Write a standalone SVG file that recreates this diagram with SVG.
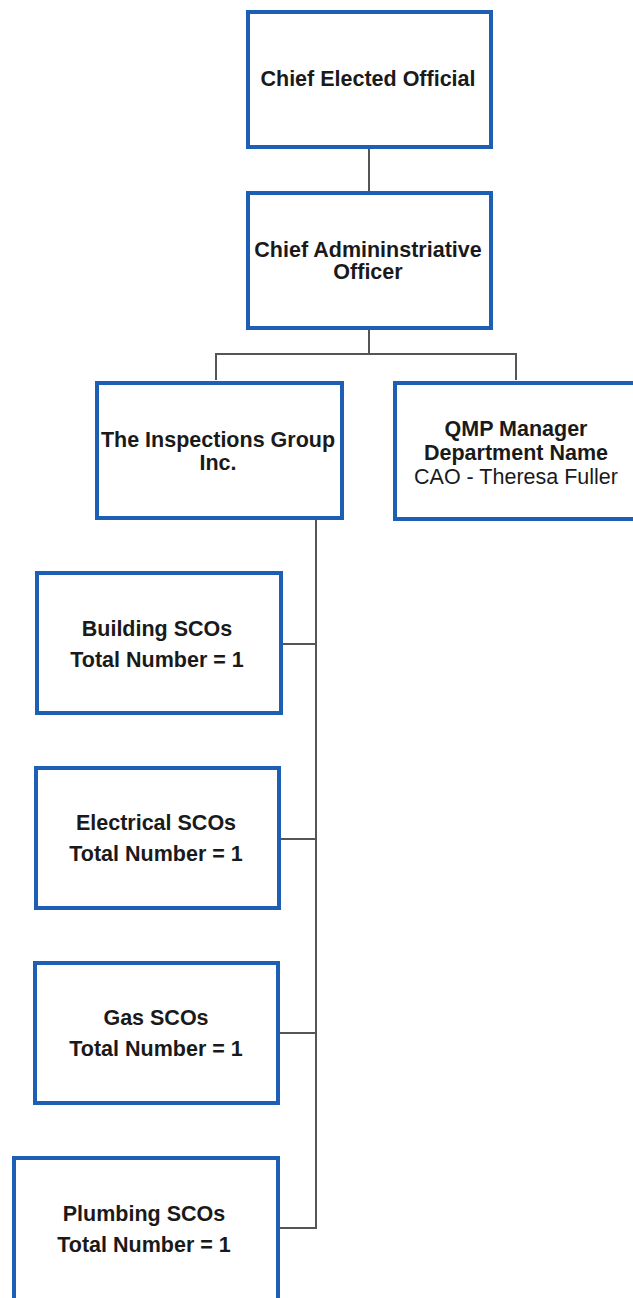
<svg xmlns="http://www.w3.org/2000/svg" width="633" height="1298" viewBox="0 0 633 1298">
<style>
.box{fill:#fff;stroke:#1d5fb4;stroke-width:4}
.conn{fill:none;stroke:#555;stroke-width:2}
.t{font-family:"Liberation Sans",Arial,sans-serif;font-size:21.5px;font-weight:bold;fill:#1a1a1a;text-anchor:middle}
.r{font-weight:normal}
</style>
<rect width="633" height="1298" fill="#fff"/>
<g id="connectors">
<path class="conn" d="M369 147V192"/>
<path class="conn" d="M369 329V354M216 380V354H516V380"/>
<path class="conn" d="M316 519V1228H280"/>
<path class="conn" d="M281 644H316M280 839H316M279 1033H316"/>
</g>
<g id="n1"><rect class="box" x="248" y="12" width="243" height="135"/><text class="t" x="368" y="86">Chief Elected Official</text></g>
<g id="n2"><rect class="box" x="248" y="193" width="243" height="135"/><text class="t" x="368" y="257">Chief Admininstriative</text><text class="t" x="368" y="279">Officer</text></g>
<g id="n3"><rect class="box" x="97" y="383" width="245" height="135"/><text class="t" x="218" y="447">The Inspections Group</text><text class="t" x="218" y="470">Inc.</text></g>
<g id="n4"><rect class="box" x="395" y="383" width="242" height="136"/><text class="t" x="516" y="436">QMP Manager</text><text class="t" x="516" y="460">Department Name</text><text class="t r" x="516" y="484">CAO - Theresa Fuller</text></g>
<g id="n5"><rect class="box" x="37" y="573" width="244" height="140"/><text class="t" x="157" y="636">Building SCOs</text><text class="t" x="157" y="667">Total Number = 1</text></g>
<g id="n6"><rect class="box" x="36" y="768" width="243" height="140"/><text class="t" x="156" y="830">Electrical SCOs</text><text class="t" x="156" y="861">Total Number = 1</text></g>
<g id="n7"><rect class="box" x="35" y="963" width="243" height="140"/><text class="t" x="156" y="1025">Gas SCOs</text><text class="t" x="156" y="1056">Total Number = 1</text></g>
<g id="n8"><rect class="box" x="14" y="1158" width="264" height="142"/><text class="t" x="144" y="1221">Plumbing SCOs</text><text class="t" x="144" y="1252">Total Number = 1</text></g>
</svg>
